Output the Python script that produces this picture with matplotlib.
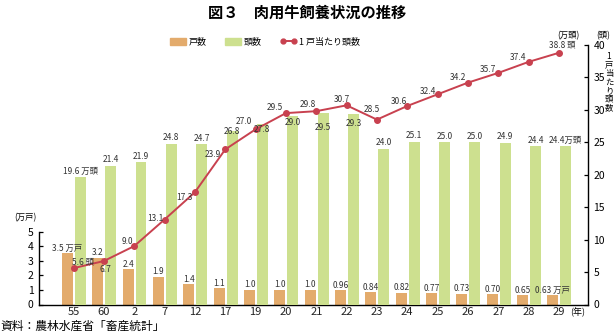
import numpy as np
import matplotlib
matplotlib.use("Agg")
import matplotlib.pyplot as plt
from matplotlib.patches import Patch
from matplotlib.lines import Line2D

plt.rcParams["font.family"] = ["Noto Sans CJK JP", "DejaVu Sans"]

# 肉用牛飼養状況（年次別）
years = ["55", "60", "2", "7", "12", "17", "19", "20", "21", "22",
         "23", "24", "25", "26", "27", "28", "29"]
households = [3.5, 3.2, 2.4, 1.9, 1.4, 1.1, 1.0, 1.0, 1.0, 0.96,
              0.84, 0.82, 0.77, 0.73, 0.70, 0.65, 0.63]          # 万戸
head_count = [19.6, 21.4, 21.9, 24.8, 24.7, 26.8, 27.8, 29.0, 29.5, 29.3,
              24.0, 25.1, 25.0, 25.0, 24.9, 24.4, 24.4]          # 万頭
per_household = [5.6, 6.7, 9.0, 13.1, 17.3, 23.9, 27.0, 29.5, 29.8, 30.7,
                 28.5, 30.6, 32.4, 34.2, 35.7, 37.4, 38.8]       # 頭

# label placement (pixel offsets from the mark)
line_lbl_off = [(10, 6), (2, -8), (-7, 5), (-9, 1), (-10, -5), (-12, -5),
                (-12, 8), (-11, 6), (-8, 7), (-5, 6), (-5, 10), (-8, 4),
                (-10, 3), (-10, 5), (-10, 3), (-11, 4), (3, 8)]
head_lbl_dy = [6, 6, 6, 6, 6, -1, -5, -6, -14, -9, 6, 6, 6, 6, 6, 6, 6]

C_HH = "#E3AB6C"
C_HEAD = "#CDE08F"
C_LINE = "#C8414F"
PX = 0.72  # points per pixel at 100 dpi

W, H = 615, 336
fig = plt.figure(figsize=(W / 100, H / 100), dpi=100)
left, right, bottom, top = 39, 588, 304.5, 45
ax = fig.add_axes([left / W, 1 - bottom / H, (right - left) / W, (bottom - top) / H])
ax2 = ax.twinx()

x = np.arange(len(years))
step = (559 - 73.5) / 16
ax.set_xlim(-(73.5 - left) / step, 16 + (right - 559) / step)
ax.set_ylim(0, (bottom - top) / 14.6)
ax2.set_ylim(0, 40)

bw = 0.36
ax.bar(x - 0.2, households, width=bw, color=C_HH, zorder=2)
ax2.bar(x + 0.225, head_count, width=bw, color=C_HEAD, zorder=1)
ax2.plot(x, per_household, color=C_LINE, lw=1.4, marker="o", ms=4, zorder=3)

lab_fs = 6
for i, v in enumerate(households):
    s = f"{v:.2f}" if v < 1 else f"{v:.1f}"
    if i in (0, len(households) - 1):
        s += " 万戸"
    # drawn on the upper axes so the green bars never hide these labels
    ax2.annotate(s, (x[i] - 0.2, v), xycoords=ax.transData,
                 xytext=(0, 5 * PX), textcoords="offset points",
                 ha="center", va="center", fontsize=lab_fs, color="#333333", zorder=5)
for i, v in enumerate(head_count):
    s = f"{v:.1f}"
    if i == 0:
        s += " 万頭"
    elif i == len(head_count) - 1:
        s += "万頭"
    ax2.annotate(s, (x[i] + 0.225, v), xytext=(0, head_lbl_dy[i] * PX),
                 textcoords="offset points", ha="center", va="center",
                 fontsize=lab_fs, color="#333333", zorder=5)
for i, v in enumerate(per_household):
    s = f"{v:.1f}"
    if i in (0, len(per_household) - 1):
        s += " 頭"
    dx, dy = line_lbl_off[i]
    ax2.annotate(s, (x[i], v), xytext=(dx * PX, dy * PX), textcoords="offset points",
                 ha="center", va="center", fontsize=lab_fs, color="#333333", zorder=5)

# axes styling
for a in (ax, ax2):
    a.spines["top"].set_visible(False)
    a.set_xticks([])
ax.spines["right"].set_visible(False)
ax2.spines["left"].set_visible(False)
ax2.spines["bottom"].set_visible(False)
ax.spines["left"].set_bounds(0, 5)
ax2.spines["right"].set_bounds(0, 40)
for sp in ("left", "bottom"):
    ax.spines[sp].set_linewidth(1.0)
ax2.spines["right"].set_linewidth(1.0)

ax.set_yticks(range(6))
ax2.set_yticks(range(0, 41, 5))
ax.tick_params(axis="y", direction="in", length=3, width=0.9, pad=4, labelsize=7.5)
ax2.tick_params(axis="y", direction="in", length=3, width=0.9, pad=4, labelsize=7.5)

for i, yr in enumerate(years):
    ax.text(x[i], -0.5, yr, transform=ax.transData, ha="center", va="center",
            fontsize=8, color="#222222")
fig.text(578 / W, 1 - 312 / H, "(年)", ha="center", va="center", fontsize=6.5)

fig.text(25 / W, 1 - 218 / H, "(万戸)", ha="center", va="center", fontsize=6)
fig.text(568 / W, 1 - 36 / H, "(万頭)", ha="center", va="center", fontsize=6)
fig.text(603 / W, 1 - 36 / H, "(頭)", ha="center", va="center", fontsize=6)
fig.text(609 / W, 1 - 82 / H, "\n".join("1戸当たり頭数"), ha="center", va="center",
         fontsize=6, linespacing=0.95)

fig.text(0.5, 1 - 13 / H, "図３　肉用牛飼養状況の推移", ha="center", va="center",
         fontsize=11, fontweight="bold")
fig.text(0, 1 - 326 / H, "資料：農林水産省「畜産統計」", ha="left", va="center",
         fontsize=8.5)

handles = [Patch(color=C_HH), Patch(color=C_HEAD),
           Line2D([0], [0], color=C_LINE, lw=1.4, marker="o", ms=3.5)]
fig.legend(handles, ["戸数", "頭数", "1 戸当たり頭数"], loc="center",
           bbox_to_anchor=(265 / W, 1 - 42 / H), ncol=3, frameon=False,
           fontsize=6.5, handlelength=1.8, handleheight=0.9, handletextpad=0.3,
           columnspacing=2.0, numpoints=2)

fig.savefig("out.png", dpi=100)
